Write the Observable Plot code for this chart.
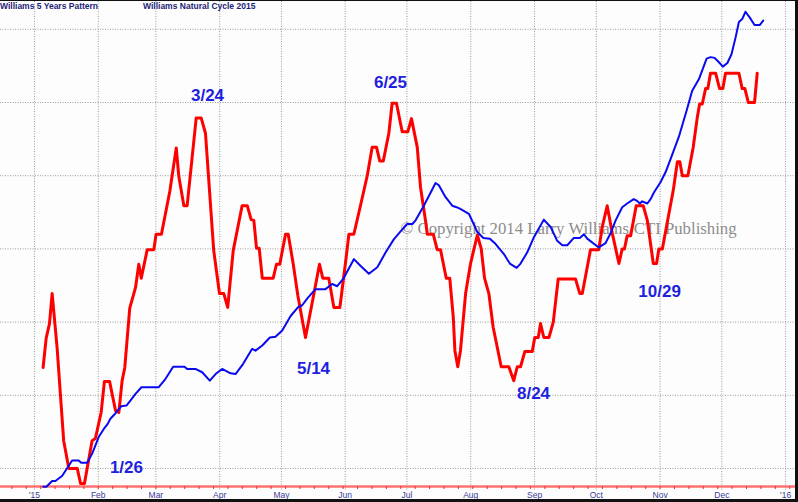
<!DOCTYPE html>
<html><head><meta charset="utf-8">
<script src="https://cdn.jsdelivr.net/npm/d3@7"></script>
<script src="https://cdn.jsdelivr.net/npm/@observablehq/plot@0.6"></script>
<style>
body{margin:0;background:#fff;}
#wrap{position:relative;width:795px;height:498px;border-top:1px solid #111;border-right:3px solid #111;border-bottom:3px solid #111;background:#fdfdfd;overflow:hidden;}
#wrap svg{display:block;}
.ttl{position:absolute;top:0px;font:bold 8.5px "Liberation Sans",Arial,sans-serif;color:#1c1c78;line-height:10px;z-index:2;white-space:nowrap;}
</style></head><body>
<div id="wrap"></div>
<script>
// Titles
const titles = ["Williams 5 Years Pattern", "Williams Natural Cycle 2015"];
// x = days since 1 Jan 2015, y = index level (unlabelled axis)
const fiveYearPattern = [[4.2,23.8],[5.7,27.8],[7.3,29.8],[8.6,33.9],[11.0,26.5],[14.2,13.8],[16.7,10],[20.8,10],[22.4,7.95],[24.3,7.95],[28.0,13.8],[29.6,14.1],[32.4,17.65],[34.0,21.9],[36.5,21.9],[39.4,17.9],[41.0,17.65],[42.6,22.0],[43.9,23.8],[46.3,31.9],[49.1,34.7],[50.7,37.9],[51.9,36.0],[54.8,39.9],[58.0,39.9],[59.1,42.0],[61.7,42.0],[65.8,47.9],[68.9,53.8],[70.1,50.0],[72.6,45.9],[74.2,45.9],[78.6,57.9],[81.0,57.9],[83.1,55.8],[87.1,39.8],[89.9,33.9],[92.0,33.9],[93.9,32.0],[96.6,39.8],[100.9,45.9],[103.4,45.9],[105.3,44.0],[106.6,43.9],[107.9,40.1],[109.2,40.1],[110.7,36.0],[116.0,36.0],[117.6,37.9],[119.2,37.9],[122.0,42.0],[123.3,42.0],[125.7,38.0],[128.0,33.6],[131.7,27.9],[135.0,32.7],[138.5,37.9],[140.1,36.0],[143.0,36.0],[145.5,32.0],[148.4,32.0],[151.1,38.0],[152.8,42.0],[155.2,42.0],[158.4,45.9],[161.7,50.0],[164.1,53.9],[166.2,53.9],[167.8,52.0],[169.5,52.0],[172.2,55.8],[173.8,59.9],[175.9,59.9],[178.7,56.0],[181.4,56.0],[183.2,57.8],[186.0,53.9],[187.6,48.4],[190.0,43.9],[190.9,42.0],[193.8,42.0],[195.7,39.9],[197.3,39.9],[200.1,36.0],[201.8,36.0],[203.5,30.7],[204.3,26.1],[205.7,23.9],[207.0,26.1],[209.5,33.9],[211.9,38.0],[215.2,41.9],[217.1,40.0],[218.7,36.0],[220.8,33.9],[222.9,29.3],[226.8,23.9],[230.5,23.9],[232.9,22.0],[234.6,23.9],[236.2,23.9],[238.3,26.0],[241.9,26.0],[243.1,27.9],[244.8,27.9],[245.9,29.8],[247.5,27.9],[250.0,27.9],[252.1,30.0],[254.5,35.9],[262.9,35.9],[265.0,33.9],[266.2,33.9],[270.2,39.9],[274.2,39.9],[275.9,43.0],[278.3,45.9],[280.8,42.1],[284.0,38.0],[285.6,40.0],[286.7,40.0],[288.0,41.8],[289.7,41.8],[292.4,45.9],[295.8,45.9],[297.8,43.9],[300.7,38.0],[302.3,38.0],[303.4,40.0],[305.1,40.0],[310.4,48.0],[312.4,51.9],[313.6,51.9],[314.8,50.0],[317.5,50.0],[320.1,53.9],[322.1,58.0],[323.2,59.8],[324.5,59.8],[326.1,61.9],[327.2,61.9],[328.5,64.0],[331.0,64.0],[332.9,61.9],[334.5,61.9],[335.8,64.0],[342.3,64.0],[343.9,61.9],[345.2,61.9],[346.9,60.0],[349.9,60.0],[351.2,64.0]];
const naturalCycle = [[4.2,7.5],[5.8,7.5],[8.6,8.3],[10.2,8.3],[13.5,9.0],[18.3,11.1],[21.5,11.1],[22.7,10.8],[25.6,10.8],[28.0,12.0],[31.2,14.3],[33.7,15.4],[35.6,16.1],[36.9,16.8],[39.4,17.55],[42.1,18.5],[44.7,18.6],[46.7,19.3],[49.1,20.2],[52.0,21.1],[60.4,21.1],[63.7,22.25],[67.4,23.9],[72.9,23.9],[74.2,23.6],[78.2,23.6],[81.5,23.15],[85.2,22.0],[88.0,22.9],[91.2,23.6],[95.3,23.0],[97.7,22.9],[101.4,24.3],[105.8,26.35],[107.4,26.1],[110.7,26.8],[114.4,27.9],[117.1,28.0],[120.4,28.85],[124.4,30.8],[128.0,32.0],[130.1,32.3],[132.8,33.3],[136.6,34.5],[141.4,34.5],[144.7,35.2],[147.1,34.9],[150.0,35.9],[155.2,38.6],[158.4,37.7],[162.5,36.6],[166.6,37.5],[170.6,39.5],[174.6,41.3],[177.9,42.4],[181.1,43.4],[183.6,43.4],[185.2,43.9],[189.2,45.9],[194.9,49.0],[196.5,48.7],[199.7,47.1],[203.0,45.9],[205.1,45.7],[206.7,45.5],[211.1,44.8],[215.2,42.3],[218.1,41.5],[221.3,41.4],[224.0,40.7],[228.1,39.3],[231.0,38.0],[234.3,37.4],[236.2,38.0],[239.4,39.5],[242.7,41.6],[247.5,44.0],[250.8,43.0],[254.0,41.1],[256.5,40.5],[258.9,40.5],[262.1,41.5],[265.0,41.5],[267.0,42.0],[268.6,41.4],[274.2,40.2],[277.5,40.8],[279.9,42.1],[282.4,43.9],[285.6,45.7],[288.0,46.2],[291.2,46.8],[292.6,46.6],[294.2,46.2],[295.3,46.5],[297.8,46.2],[299.4,46.8],[301.0,47.7],[304.2,49.1],[306.7,50.5],[309.4,52.5],[313.1,55.3],[316.9,58.9],[319.6,61.6],[322.9,63.2],[326.6,66.0],[328.5,66.2],[330.5,66.1],[332.6,65.5],[334.5,64.9],[336.7,65.4],[338.7,66.6],[340.7,68.9],[342.3,71.0],[343.9,71.4],[345.5,72.4],[347.6,71.6],[349.9,70.6],[352.5,70.6],[354.1,71.2]];
// Turning-point annotations
const turnLabels = ["3/24","6/25","5/14","8/24","10/29","1/26"];
const turnDays = [84.1,173.0,135.6,242.5,303.75,44.7];
const turnLevels = [61.0,62.7,23.7,20.2,34.2,10.1];
const copyrightText = "\u00A9 Copyright 2014 Larry Williams/CTI Publishing";
const copyrightAt = [177.9, 42.8];
const gridLevels = [10,20,30,40,50,60,70];
const xDomainDays = [-16.5, 369.8];
const yDomain = [7.54, 73.8];

const day0 = Date.UTC(2015,0,1);
const toDate = d => new Date(day0 + d*864e5);
const months = d3.utcMonth.range(new Date(Date.UTC(2015,0,1)), new Date(Date.UTC(2016,0,2)));
const weeks = d3.utcSunday.range(toDate(xDomainDays[0]), toDate(xDomainDays[1]));
const fmt = d => d.getUTCMonth() === 0 ? "'" + String(d.getUTCFullYear()).slice(2) : d3.utcFormat("%b")(d);

const red = fiveYearPattern.map(([d,v]) => ({date: toDate(d), v}));
const blue = naturalCycle.map(([d,v]) => ({date: toDate(d), v}));
const notes = turnLabels.map((t,i) => ({t, date: toDate(turnDays[i]), v: turnLevels[i]}));

const chart = Plot.plot({
  width: 795, height: 498,
  marginLeft: 0, marginRight: 0, marginTop: 0, marginBottom: 13,
  style: {fontFamily: "'Liberation Sans', Arial, sans-serif", background: "#fdfdfd", overflow: "visible"},
  x: {type: "utc", domain: xDomainDays.map(toDate), axis: null},
  y: {domain: yDomain, axis: null},
  marks: [
    Plot.ruleY(gridLevels, {stroke: "#9a9a9a", strokeDasharray: "1,1.5", strokeWidth: 1}),
    Plot.ruleX(months, {stroke: "#9a9a9a", strokeDasharray: "1,1.5", strokeWidth: 1, insetBottom: -5}),
    Plot.text([copyrightText], {x: toDate(copyrightAt[0]), y: copyrightAt[1], text: d => d, textAnchor: "start", fill: "#8c8c8c", fontSize: 16.75, fontFamily: "'Liberation Serif', 'Times New Roman', serif"}),
    Plot.ruleY([yDomain[0]], {stroke: "#ff5050", strokeWidth: 2.5, strokeOpacity: 0.8}),
    Plot.axisX({ticks: weeks, tickSize: 3, stroke: "#ff3030", tickFormat: () => "", label: null}),
    Plot.axisX({ticks: months, tickSize: 0, tickPadding: 5, tickFormat: fmt, color: "#3a3a9a", fontSize: 8.5, label: null}),
    Plot.line(red, {x: "date", y: "v", stroke: "#ff0000", strokeWidth: 3}),
    Plot.line(blue, {x: "date", y: "v", stroke: "#0a0af0", strokeWidth: 2}),
    Plot.text(notes, {x: "date", y: "v", text: "t", fill: "#1f1fe0", fontSize: 17, fontWeight: "bold"})
  ]
});
const wrap = document.getElementById("wrap");
wrap.appendChild(chart);
const lefts = [0, 143];
titles.forEach((t,i) => {
  const el = document.createElement("div");
  el.className = "ttl"; el.style.left = lefts[i] + "px"; el.textContent = t;
  wrap.appendChild(el);
});
</script>
</body></html>
